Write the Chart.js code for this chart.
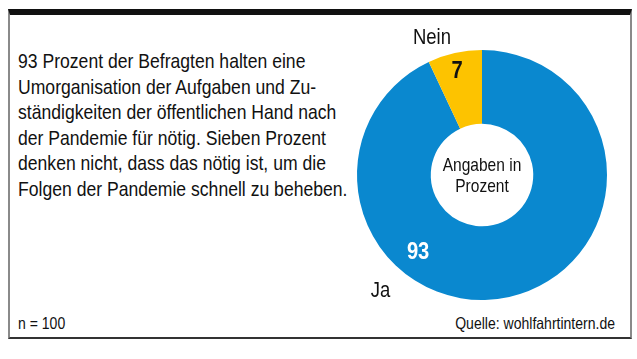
<!DOCTYPE html>
<html>
<head>
<meta charset="utf-8">
<script src="https://cdn.jsdelivr.net/npm/chart.js@4"></script>
<style>
  body { margin: 0; background: #fff; width: 637px; height: 359px; overflow: hidden;
         font-family: "Liberation Sans", Arial, sans-serif; }
  .frame { position: absolute; left: 8px; top: 9px; width: 620px; height: 322px;
           border-left: 2px solid #8a8a8a; border-right: 2px solid #8a8a8a;
           border-bottom: 2px solid #333; border-top: 6px solid #111; }
  .squeeze { transform: scaleX(0.85); white-space: nowrap; }
  .intro { position: absolute; left: 18px; top: 48px; font-size: 20.7px;
           line-height: 25.5px; color: #111; transform-origin: left top; }
  .note { position: absolute; top: 314px; font-size: 16.5px; color: #111; }
  #chart-box { position: absolute; left: 337px; top: 20px; width: 290px; height: 310px; }
</style>
</head>
<body>
<div class="frame"></div>
<div class="intro squeeze">93 Prozent der Befragten halten eine<br>Umorganisation der Aufgaben und Zu-<br>ständigkeiten der öffentlichen Hand nach<br>der Pandemie für nötig. Sieben Prozent<br>denken nicht, dass das nötig ist, um die<br>Folgen der Pandemie schnell zu beheben.</div>
<div class="note squeeze" style="left:18px; transform-origin:left top">n = 100</div>
<div class="note squeeze" style="right:22px; transform-origin:right top">Quelle: wohlfahrtintern.de</div>
<div id="chart-box"><canvas id="pie"></canvas></div>
<script>
// answers and shares in percent
const answers = ['Ja', 'Nein'];
const shares = [93, 7];
const sliceColors = ['#0a88cf', '#fdc300'];
const centerLines = ['Angaben in', 'Prozent'];

const FONT = '"Liberation Sans", Arial, sans-serif';
const SQUEEZE = 0.84;

// where the numbers and names sit: angle (deg, 0 = right, clockwise) and distance / outer radius
const placing = {
  Ja:   { value: [129.7, 0.80], name: [131.3, 1.23], valueColor: '#fff' },
  Nein: { value: [-103.6, 0.85], name: [-110, 1.17], valueColor: '#111' }
};

function narrowText(ctx, text, x, y) {
  ctx.save();
  ctx.translate(x, y);
  ctx.scale(SQUEEZE, 1);
  ctx.fillText(text, 0, 0);
  ctx.restore();
}

const labelPlugin = {
  id: 'labels',
  afterDatasetsDraw(chart) {
    const ctx = chart.ctx;
    const arc0 = chart.getDatasetMeta(0).data[0];
    const cx = arc0.x, cy = arc0.y, r = arc0.outerRadius;
    const at = (deg, f) => {
      const a = deg * Math.PI / 180;
      return [cx + Math.cos(a) * r * f, cy + Math.sin(a) * r * f];
    };
    ctx.save();
    ctx.textAlign = 'center';
    ctx.textBaseline = 'middle';
    answers.forEach((name, i) => {
      const p = placing[name];
      let [x, y] = at(p.value[0], p.value[1]);
      ctx.font = 'bold 24px ' + FONT;
      ctx.fillStyle = p.valueColor;
      narrowText(ctx, String(shares[i]), x, y);
      [x, y] = at(p.name[0], p.name[1]);
      ctx.font = '22px ' + FONT;
      ctx.fillStyle = '#111';
      narrowText(ctx, name, x, y);
    });
    ctx.font = '18.5px ' + FONT;
    narrowText(ctx, centerLines[0], cx, cy - 9);
    narrowText(ctx, centerLines[1], cx, cy + 12);
    ctx.restore();
  }
};

new Chart(document.getElementById('pie'), {
  type: 'doughnut',
  data: {
    labels: answers,
    datasets: [{
      data: shares,
      backgroundColor: sliceColors,
      borderWidth: 0
    }]
  },
  options: {
    responsive: true,
    maintainAspectRatio: false,
    cutout: '41%',
    animation: false,
    layout: { padding: 20 },
    plugins: { legend: { display: false }, tooltip: { enabled: false } }
  },
  plugins: [labelPlugin]
});
</script>
</body>
</html>
